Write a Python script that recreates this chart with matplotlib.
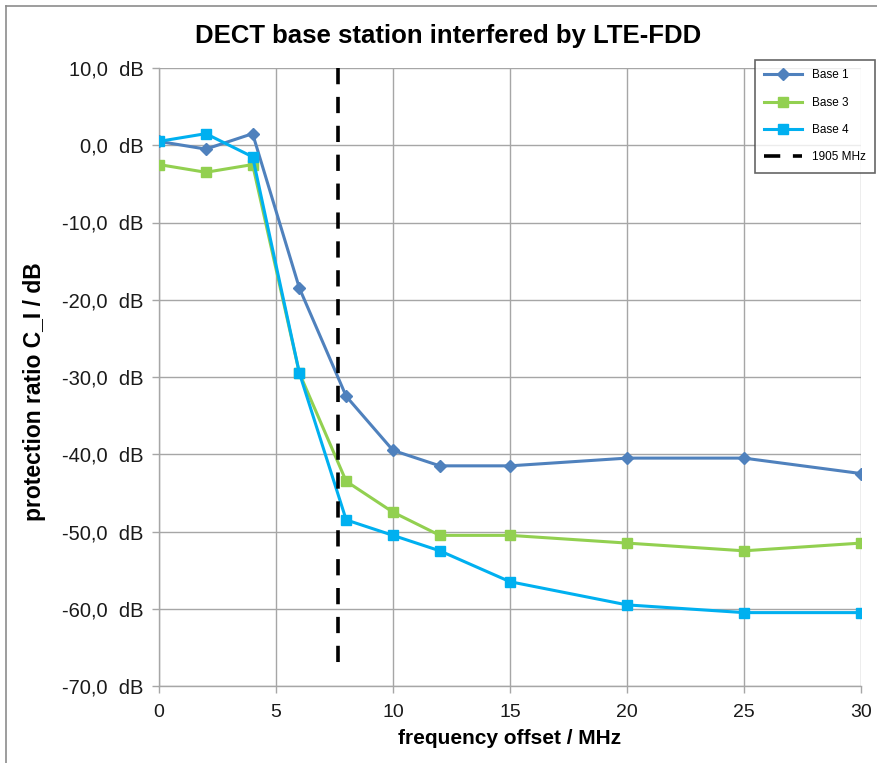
import matplotlib
matplotlib.use("Agg")
import matplotlib.pyplot as plt
from matplotlib.lines import Line2D

plt.rcParams['font.family'] = ['Liberation Sans', 'DejaVu Sans']

# frequency offsets (MHz)
freq = [0, 2, 4, 6, 8, 10, 12, 15, 20, 25, 30]
base1 = [0.5, -0.5, 1.5, -18.5, -32.5, -39.5, -41.5, -41.5, -40.5, -40.5, -42.5]
base3 = [-2.5, -3.5, -2.5, -29.5, -43.5, -47.5, -50.5, -50.5, -51.5, -52.5, -51.5]
base4 = [0.5, 1.5, -1.5, -29.5, -48.5, -50.5, -52.5, -56.5, -59.5, -60.5, -60.5]
marker_1905 = 7.65
marker_top, marker_bottom = 10, -68

x_ticks = [0, 5, 10, 15, 20, 25, 30]
y_ticks = [10, 0, -10, -20, -30, -40, -50, -60, -70]

W, H = 877, 763
fig = plt.figure(figsize=(W / 100, H / 100), dpi=100)
ax = fig.add_axes([159 / W, 1 - 686 / H, (861 - 159) / W, (686 - 68) / H])

# outer chart frame (left and top edges)
fig.add_artist(Line2D([6 / W, 6 / W], [0, 1 - 6 / H], transform=fig.transFigure,
                      color='#8c8c8c', lw=1.2))
fig.add_artist(Line2D([6 / W, 1], [1 - 6 / H, 1 - 6 / H], transform=fig.transFigure,
                      color='#8c8c8c', lw=1.2))

ax.plot(freq, base1, color='#4F81BD', lw=2.2, marker='D', ms=6.5, label='Base 1', zorder=4)
ax.plot(freq, base3, color='#92D050', lw=2.2, marker='s', ms=7.5, label='Base 3', zorder=3)
ax.plot(freq, base4, color='#00B0F0', lw=2.2, marker='s', ms=7.5, label='Base 4', zorder=5)
ax.plot([marker_1905, marker_1905], [marker_top, marker_bottom], color='black', lw=2.6,
        dashes=(4.5, 3.5), label='1905 MHz', zorder=6)

ax.set_xlim(0, 30)
ax.set_ylim(-70, 10)
ax.set_xticks(x_ticks)
ax.set_yticks(y_ticks)
ax.set_xticklabels([str(v) for v in x_ticks], fontsize=14)
ax.set_yticklabels([f"{v:.1f}".replace('.', ',') + "  dB" for v in y_ticks], fontsize=14.5)
ax.grid(True, color='#a6a6a6', lw=1.0)
ax.set_axisbelow(True)
for side in ('top', 'right'):
    ax.spines[side].set_visible(False)
for side in ('left', 'bottom'):
    ax.spines[side].set_color('#a6a6a6')
    ax.spines[side].set_linewidth(1.0)
ax.tick_params(axis='both', direction='out', length=5, color='#a6a6a6', width=1.0,
               colors='#1a1a1a', pad=6)
ax.tick_params(axis='x', pad=8)

ax.set_xlabel('frequency offset / MHz', fontsize=15, fontweight='bold', labelpad=6)
ax.set_ylabel('protection ratio C_I / dB', fontsize=16.5, fontweight='bold')
ax.yaxis.set_label_coords((46 - 159) / 702, (686 - 392) / 618)
fig.text(448 / W, 1 - 36 / H, 'DECT base station interfered by LTE-FDD', ha='center',
         va='center', fontsize=18.5, fontweight='bold')

leg = ax.legend(loc='upper right', bbox_to_anchor=(875 / W, 1 - 60 / H),
                bbox_transform=fig.transFigure, fontsize=8.5, frameon=True,
                fancybox=False, edgecolor='#404040', borderpad=0.8, labelspacing=1.3,
                handlelength=3.2, borderaxespad=0)
leg.get_frame().set_linewidth(1.2)

fig.savefig('out.png', dpi=100)
